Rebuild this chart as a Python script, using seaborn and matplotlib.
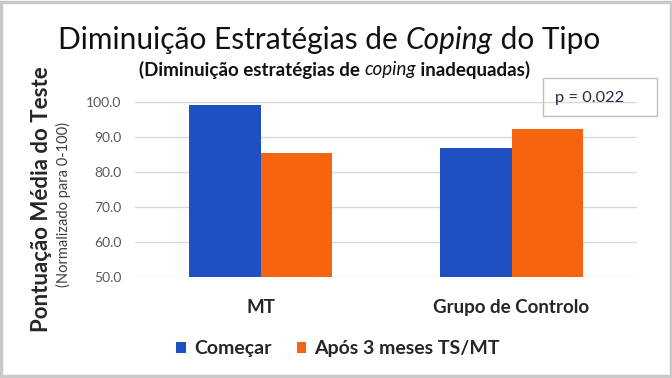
import matplotlib
matplotlib.use("Agg")
import matplotlib.pyplot as plt
import pandas as pd
import seaborn as sns
from matplotlib.patches import Rectangle

# Data
groups = ["MT", "Grupo de Controlo"]
series = ["Começar", "Após 3 meses TS/MT"]
start_scores = [99.3, 86.8]
after_scores = [85.4, 92.3]
y_ticks = [50, 60, 70, 80, 90, 100]
p_text = "p = 0.022"

colors = ["#1F50C2", "#F76410"]


def draw_mixed(fig, x, y, parts, **kw):
    """Draw a line of text made of differently styled parts, centred at x."""
    renderer = fig.canvas.get_renderer()
    texts = [fig.text(0, y, s, va="center", ha="left", **style, **kw)
             for s, style in parts]
    widths = [t.get_window_extent(renderer).width for t in texts]
    left = x * fig.bbox.width - sum(widths) / 2
    for t, w in zip(texts, widths):
        t.set_x(left / fig.bbox.width)
        left += w


sns.set_theme(style="white")
plt.rcParams["font.family"] = ["Lato", "DejaVu Sans"]

df = pd.DataFrame({
    "grupo": groups * 2,
    "momento": [series[0]] * 2 + [series[1]] * 2,
    "pontuacao": start_scores + after_scores,
})

fig = plt.figure(figsize=(6.72, 3.78), dpi=100)
ax = fig.add_axes([0.201, 0.268, 0.747, 0.461])

sns.barplot(data=df, x="grupo", y="pontuacao", hue="momento",
            palette=colors, width=0.57, saturation=1, linewidth=0, ax=ax)

ax.set_ylim(50, 100)
ax.set_xlim(-0.5, 1.5)
ax.set_yticks(y_ticks)
ax.set_yticklabels([f"{v:.1f}" for v in y_ticks], fontsize=10, color="#595959")
ax.set_xticks(range(len(groups)))
ax.set_xticklabels(groups, fontsize=13.5, fontweight="bold", color="#262626")
ax.tick_params(axis="both", length=0)
ax.tick_params(axis="y", pad=10)
ax.tick_params(axis="x", pad=16)
ax.yaxis.grid(True, color="#D9D9D9", lw=1)
ax.set_axisbelow(True)
sns.despine(ax=ax, left=True, bottom=True)
ax.set_xlabel("")
ax.set_ylabel("")

handles, labels = ax.get_legend_handles_labels()
ax.get_legend().remove()
leg = fig.legend(handles, labels, loc="center", bbox_to_anchor=(0.503, 0.078),
                 ncol=2, frameon=False, handlelength=0.5, handleheight=0.5,
                 handletextpad=0.4, columnspacing=1.3,
                 prop={"size": 14, "weight": "bold"})
for txt in leg.get_texts():
    txt.set_color("#262626")

# Titles
draw_mixed(fig, 0.49, 0.894,
           [("Diminuição Estratégias de ", {}),
            ("Coping", {"style": "italic"}),
            (" do Tipo", {})],
           fontsize=21.5, color="#111111")
draw_mixed(fig, 0.498, 0.815,
           [("(Diminuição estratégias de ", {"fontweight": "bold"}),
            ("coping", {"style": "italic"}),
            (" inadequadas)", {"fontweight": "bold"})],
           fontsize=13.5, color="#111111")

# Axis titles
fig.text(0.0625, 0.474, "Pontuação Média do Teste", rotation=90,
         ha="center", va="center", fontsize=16, fontweight="bold",
         color="#262626")
fig.text(0.094, 0.46, "(Normalizado para 0-100)", rotation=90,
         ha="center", va="center", fontsize=10.5, color="#404040")

# p-value box
fig.patches.append(Rectangle((0.808, 0.693), 0.170, 0.1005,
                             transform=fig.transFigure, fill=False,
                             edgecolor="#BFBFBF", lw=1))
fig.text(0.826, 0.741, p_text, ha="left", va="center", fontsize=11.8,
         color="#1F2A44")

# Outer frame
fig.patches.append(Rectangle((0.002, 0.004), 0.996, 0.992,
                             transform=fig.transFigure, fill=False,
                             edgecolor="#C8C8C8", lw=2.5))

fig.savefig("out.png", dpi=100)
